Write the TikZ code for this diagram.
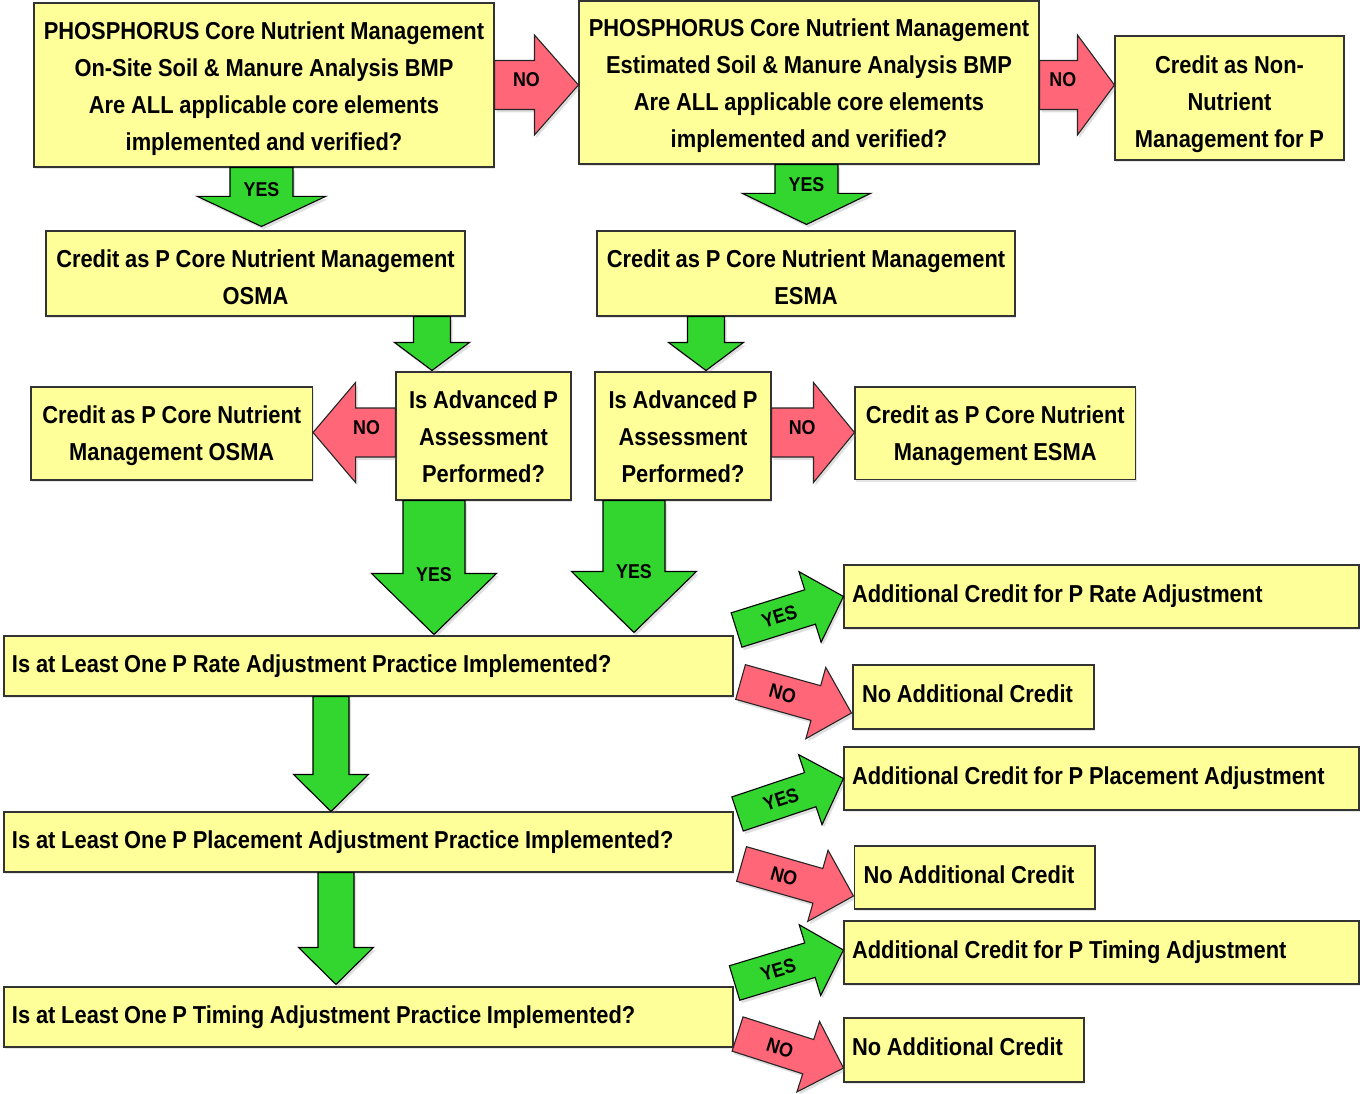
\documentclass[tikz,border=0pt]{standalone}
\usepackage{fontspec}
\setmainfont{Liberation Sans}[FakeStretch=0.893, WordSpace=0.95]
\usetikzlibrary{calc,shadows}
\definecolor{boxy}{RGB}{255,255,153}
\definecolor{agreen}{RGB}{51,214,46}
\definecolor{ared}{RGB}{255,102,119}
\newcommand\bxfont{\fontsize{24.5pt}{37pt}\selectfont\bfseries}
\newcommand\albfont{\fontsize{20pt}{22pt}\selectfont\bfseries}
\newcommand\tdn[1]{\rule{0pt}{#1pt}}
\newcommand\tupp[1]{\rule[-#1pt]{0pt}{#1pt}}
\newcommand\nsp{\spaceskip=0pt\xspaceskip=0pt\relax}
% block arrow: style, start, tip, shaft half width, head half width, head length
\newcommand\barr[6]{%
  \coordinate (bN) at ($(#3)!#6pt!(#2)$);
  \filldraw[#1] ($(#2)!#4pt!90:(#3)$) -- ($(bN)!#4pt!90:(#3)$) -- ($(bN)!#5pt!90:(#3)$)
     -- (#3) -- ($(bN)!#5pt!-90:(#3)$) -- ($(bN)!#4pt!-90:(#3)$) -- ($(#2)!#4pt!-90:(#3)$) -- cycle;
}
\tikzset{
  box/.style={draw=black!80, line width=1.1pt, fill=boxy, inner sep=0pt, align=center,
     font=\bxfont, drop shadow={shadow xshift=1pt, shadow yshift=-2pt, opacity=0.2}},
  sz/.style 2 args={minimum width=#1pt, minimum height=#2pt},
  lbox/.style={box, align=left, inner xsep=8pt},
  yesarrow/.style={fill=agreen, draw=black, line width=1.1pt, line join=miter,
     drop shadow={shadow xshift=2pt, shadow yshift=-3pt, opacity=0.25}},
  noarrow/.style={fill=ared, draw=black!85, line width=1.1pt, line join=miter,
     drop shadow={shadow xshift=2pt, shadow yshift=-3pt, opacity=0.25}},
  alabel/.style={font=\albfont, inner sep=0pt},
}
\begin{document}
\begin{tikzpicture}[x=1pt,y=-1pt]
\useasboundingbox (0,0) rectangle (1360,1094);
% boxes
\node[box, sz={460}{164}] (A) at (264,85) {\tdn{26}PHOSPHORUS Core Nutrient Management\\On-Site Soil \& Manure Analysis BMP\\Are ALL applicable core elements\\implemented and verified?};
\node[box, sz={460}{163}] (B) at (809,82.5) {\tdn{25}PHOSPHORUS Core Nutrient Management\\Estimated Soil \& Manure Analysis BMP\\Are ALL applicable core elements\\implemented and verified?};
\node[box, sz={229}{124}] (C) at (1229.5,98) {\tdn{30}Credit as Non-\\Nutrient\\Management for P};
\node[box, sz={419}{85}] (D) at (255.5,273.5) {\tdn{26}Credit as P Core Nutrient Management\\OSMA};
\node[box, sz={418}{85}] (E) at (806,273.5) {\tdn{26}Credit as P Core Nutrient Management\\ESMA};
\node[box, sz={175}{128}] (F) at (483.5,436) {\tdn{20}Is Advanced P\\Assessment\\Performed?};
\node[box, sz={176}{128}] (G) at (683,436) {\tdn{20}Is Advanced P\\Assessment\\Performed?};
\node[box, sz={281.5}{93}] (H) at (171.75,433.5) {\tdn{23}Credit as P Core Nutrient\\Management OSMA};
\node[box, sz={280.5}{92.5}] (I) at (995.25,433.25) {\tdn{23}Credit as P Core Nutrient\\Management ESMA};
\node[lbox, text width=713pt, minimum height=60pt] (J) at (368.5,666) {\nsp Is at Least One P Rate Adjustment Practice Implemented?};
\node[lbox, text width=713pt, minimum height=60pt] (K) at (368.5,842) {\nsp Is at Least One P Placement Adjustment Practice Implemented?};
\node[lbox, text width=713pt, minimum height=60pt] (L) at (368.5,1017) {\nsp Is at Least One P Timing Adjustment Practice Implemented?};
\node[lbox, text width=499pt, minimum height=63pt] (M) at (1101.5,596.5) {\nsp Additional Credit for P Rate Adjustment};
\node[lbox, inner xsep=9pt, text width=223pt, minimum height=64pt] (N) at (973.5,697) {\nsp No Additional Credit\tupp{6}};
\node[lbox, text width=499pt, minimum height=63pt] (O) at (1101.5,778.5) {\nsp Additional Credit for P Placement Adjustment};
\node[lbox, inner xsep=9pt, text width=222.5pt, minimum height=63pt] (P) at (974.75,877.5) {\nsp No Additional Credit\tupp{6}};
\node[lbox, text width=499pt, minimum height=63pt] (Q) at (1101.5,952.5) {\nsp Additional Credit for P Timing Adjustment};
\node[lbox, text width=224pt, minimum height=64pt] (R) at (964,1050) {\nsp No Additional Credit\tupp{6}};
% arrow end points
\coordinate (nAs) at (A.east);
\coordinate (nAt) at (A.east -| B.west);
\coordinate (nBs) at ($(B.east)+(0,2.5)$);
\coordinate (nBt) at (nBs -| C.west);
\coordinate (yAs) at ($(A.south)+(-2.5,0)$);
\coordinate (yAt) at ($(D.north)+(6,-4)$);
\coordinate (yBs) at ($(B.south)+(-2.5,0)$);
\coordinate (yBt) at ($(E.north)+(0.5,-6)$);
\coordinate (dFs) at ($(D.south)+(176.5,0)$);
\coordinate (dFt) at ($(F.north)+(-51.5,-1)$);
\coordinate (eGs) at ($(E.south)+(-100,0)$);
\coordinate (eGt) at ($(G.north)+(23,-1)$);
\coordinate (nFs) at ($(F.west)+(0,-3.5)$);
\coordinate (nFt) at (nFs -| H.east);
\coordinate (nGs) at ($(G.east)+(0,-3.5)$);
\coordinate (nGt) at (nGs -| I.west);
\coordinate (yFs) at ($(F.south)+(-49.5,0)$);
\coordinate (yFt) at ($(J.north)+(65.5,-1)$);
\coordinate (yGs) at ($(G.south)+(-49,0)$);
\coordinate (yGt) at ($(J.north)+(265.5,-3)$);
\coordinate (jKs) at ($(J.south)+(-37.5,0)$);
\coordinate (jKt) at ($(K.north)+(-37.5,0)$);
\coordinate (kLs) at ($(K.south)+(-32.5,0)$);
\coordinate (kLt) at ($(L.north)+(-32.5,-2)$);
\coordinate (t1s) at ($(J.east)+(3,-36)$);
\coordinate (t1t) at (M.west);
\coordinate (t2s) at ($(J.east)+(7,16)$);
\coordinate (t2t) at ($(N.west)+(-1,16)$);
\coordinate (t3s) at ($(K.east)+(4,-28)$);
\coordinate (t3t) at (O.west);
\coordinate (t4s) at ($(K.east)+(8,22)$);
\coordinate (t4t) at ($(P.west)+(-0.5,18.5)$);
\coordinate (t5s) at ($(L.east)+(1,-34)$);
\coordinate (t5t) at ($(Q.west)+(0,-2.5)$);
\coordinate (t6s) at ($(L.east)+(4,17)$);
\coordinate (t6t) at ($(R.west)+(0,18)$);
% arrows
\barr{noarrow}{nAs}{nAt}{24.5}{50}{44}
\path (nAs) -- (nAt) node[alabel, pos=.38, yshift=5pt] (lnA) {NO};
\barr{noarrow}{nBs}{nBt}{24.5}{50}{37}
\path (nBs) -- (nBt) node[alabel, pos=.31, yshift=5pt] (lnB) {NO};
\barr{yesarrow}{yAs}{yAt}{31.5}{64}{30}
\path (yAs) -- (yAt) node[alabel, pos=.37] (lyA) {YES};
\barr{yesarrow}{yBs}{yBt}{31.5}{64}{31}
\path (yBs) -- (yBt) node[alabel, pos=.34] (lyB) {YES};
\barr{yesarrow}{dFs}{dFt}{18.5}{37.5}{28}
\barr{yesarrow}{eGs}{eGt}{18.5}{37.5}{28}
\barr{noarrow}{nFs}{nFt}{24.5}{50}{42.5}
\path (nFs) -- (nFt) node[alabel, pos=.35, yshift=4.5pt] (lnF) {NO};
\barr{noarrow}{nGs}{nGt}{24.5}{50}{41}
\path (nGs) -- (nGt) node[alabel, pos=.37, yshift=4.5pt] (lnG) {NO};
\barr{yesarrow}{yFs}{yFt}{31}{62.5}{61}
\path (yFs) -- (yFt) node[alabel, pos=.556] (lyF) {YES};
\barr{yesarrow}{yGs}{yGt}{31}{62.5}{61}
\path (yGs) -- (yGt) node[alabel, pos=.54] (lyG) {YES};
\barr{yesarrow}{jKs}{jKt}{18}{37.5}{37}
\barr{yesarrow}{kLs}{kLt}{18}{37.5}{37}
\barr{yesarrow}{t1s}{t1t}{18}{37}{35}
\path (t1s) -- (t1t) node[alabel, pos=.4, sloped] (l1) {YES};
\barr{noarrow}{t2s}{t2t}{18}{37}{37}
\path (t2s) -- (t2t) node[alabel, pos=.38, sloped] (l2) {NO};
\barr{yesarrow}{t3s}{t3t}{18}{37}{35}
\path (t3s) -- (t3t) node[alabel, pos=.41, sloped] (l3) {YES};
\barr{noarrow}{t4s}{t4t}{18}{37}{37}
\path (t4s) -- (t4t) node[alabel, pos=.38, sloped] (l4) {NO};
\barr{yesarrow}{t5s}{t5t}{18}{37}{35}
\path (t5s) -- (t5t) node[alabel, pos=.4, sloped] (l5) {YES};
\barr{noarrow}{t6s}{t6t}{18}{37}{37}
\path (t6s) -- (t6t) node[alabel, pos=.4, sloped] (l6) {NO};
\end{tikzpicture}
\end{document}
